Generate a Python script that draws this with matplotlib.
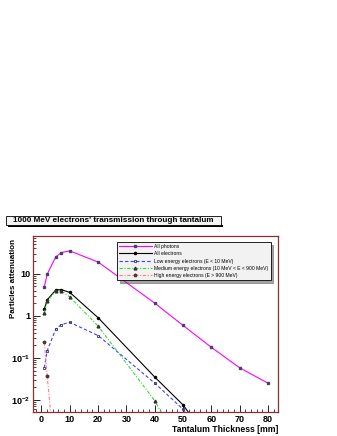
import matplotlib
matplotlib.use("Agg")
import matplotlib.pyplot as plt
from matplotlib.ticker import FixedLocator, NullFormatter, LogLocator, MultipleLocator
from matplotlib.patches import Rectangle

plt.rcParams['font.family'] = ['Liberation Sans', 'DejaVu Sans']
plt.rcParams['mathtext.fontset'] = 'custom'
plt.rcParams['mathtext.rm'] = 'Liberation Sans:bold'
plt.rcParams['mathtext.default'] = 'rm'

thickness = [1, 2, 5, 7, 10, 20, 40, 50, 60, 70, 80]
all_photons = [4.9, 9.7, 25, 32, 35, 19, 2.0, 0.59, 0.178, 0.058, 0.025]
all_electrons = [1.45, 2.4, 4.1, 4.2, 3.6, 0.9, 0.035, 0.0076, 0.0009, 0.0001, 0.00001]
low_energy = [0.058, 0.147, 0.48, 0.62, 0.70, 0.34, 0.025, 0.006, 0.0007, 0.0001, 0.00001]
medium_energy = [1.18, 2.2, 3.9, 3.9, 2.8, 0.57, 0.0096, 0.00056, 0.00005, 0.00001, 0.000001]
high_energy = [0.235, 0.038, 0.00026, 0.00005, 0.00001, 0.000001, 0.000001, 0.000001, 0.000001, 0.000001, 0.000001]

labels = ["All photons", "All electrons", "Low energy electrons (E < 10 MeV)",
          "Medium energy electrons (10 MeV < E < 900 MeV)", "High energy electrons (E > 900 MeV)"]

W, H = 337, 436
fig = plt.figure(figsize=(W/100, H/100), dpi=100)
ax = fig.add_axes([33/W, 1-412/H, (278-33)/W, (412-236)/H])

frame_col = '#8b2f2f'
ax.plot(thickness, all_photons, color='#ff00ff', lw=0.8, marker='s', ms=2, mfc='#444466', mec='#444466', label=labels[0])
ax.plot(thickness, all_electrons, color='black', lw=0.8, marker='o', ms=1.5, mfc='black', label=labels[1])
ax.plot(thickness, low_energy, color='#4040ff', lw=0.8, ls=(0, (3, 2)), marker='s', ms=2, mfc='none', mec='#333355', mew=0.6, label=labels[2])
ax.plot(thickness, medium_energy, color='#33dd33', lw=0.8, ls=(0, (3, 1.5, 1, 1.5)), marker='^', ms=2, mfc='#333333', mec='#333333', label=labels[3])
ax.plot(thickness, high_energy, color='#ff8080', lw=0.8, ls=(0, (3, 1.5, 1, 1.5)), marker='*', ms=2.5, mfc='#553333', mec='#553333', label=labels[4])

ax.set_yscale('log')
ax.set_xlim(-3, 83.5)
ax.set_ylim(10**-2.286, 10**1.898)

ax.xaxis.set_major_locator(MultipleLocator(10))
ax.xaxis.set_minor_locator(MultipleLocator(2))
ax.yaxis.set_major_locator(FixedLocator([0.01, 0.1, 1, 10]))
ax.yaxis.set_minor_locator(LogLocator(base=10, subs=range(2, 10)))
ax.yaxis.set_minor_formatter(NullFormatter())
ax.set_yticklabels([r'$10^{-2}$', r'$10^{-1}$', '1', '10'])
ax.tick_params(axis='both', which='both', direction='in', labelsize=6.5, colors='black', pad=2)
ax.tick_params(axis='both', which='major', length=5, width=0.6)
ax.tick_params(axis='both', which='minor', length=2.5, width=0.5)
ax.tick_params(top=False, right=False)
for lab in ax.get_xticklabels() + ax.get_yticklabels():
    lab.set_fontweight('bold')
for s in ax.spines.values():
    s.set_color(frame_col)
    s.set_linewidth(0.9)

ax.set_xlabel('Tantalum Thickness [mm]', fontsize=6.2, fontweight='bold', loc='right', labelpad=1)
fig.text(14/W, 1-239/H, 'Particles attenuation', fontsize=5.8, fontweight='bold',
         rotation=90, ha='center', va='top')

leg = ax.legend(loc='upper left', bbox_to_anchor=((117-33)/(278-33), 1-(242-236)/(412-236)),
                fontsize=3.6, frameon=True, fancybox=False, shadow=True, handlelength=6.5,
                borderpad=0.4, labelspacing=0.45, handletextpad=0.6, borderaxespad=0)
leg.get_frame().set_edgecolor('black')
leg.get_frame().set_linewidth(0.6)
leg.get_frame().set_facecolor('#f2f2f2')

# Title box
fig.patches.append(Rectangle((6/W, 1-225/H), (221-6)/W, 9/H, transform=fig.transFigure,
                             facecolor='#f4f4f4', edgecolor='black', lw=0.6))
fig.patches.append(Rectangle((8/W, 1-227/H), (221-6)/W, 2/H, transform=fig.transFigure,
                             facecolor='black', edgecolor='none', zorder=-1))
fig.text(113/W, 1-220.5/H, "1000 MeV electrons' transmission through tantalum", fontsize=5.9,
         fontweight='bold', ha='center', va='center')

fig.savefig('out.png', dpi=100, facecolor='white')
